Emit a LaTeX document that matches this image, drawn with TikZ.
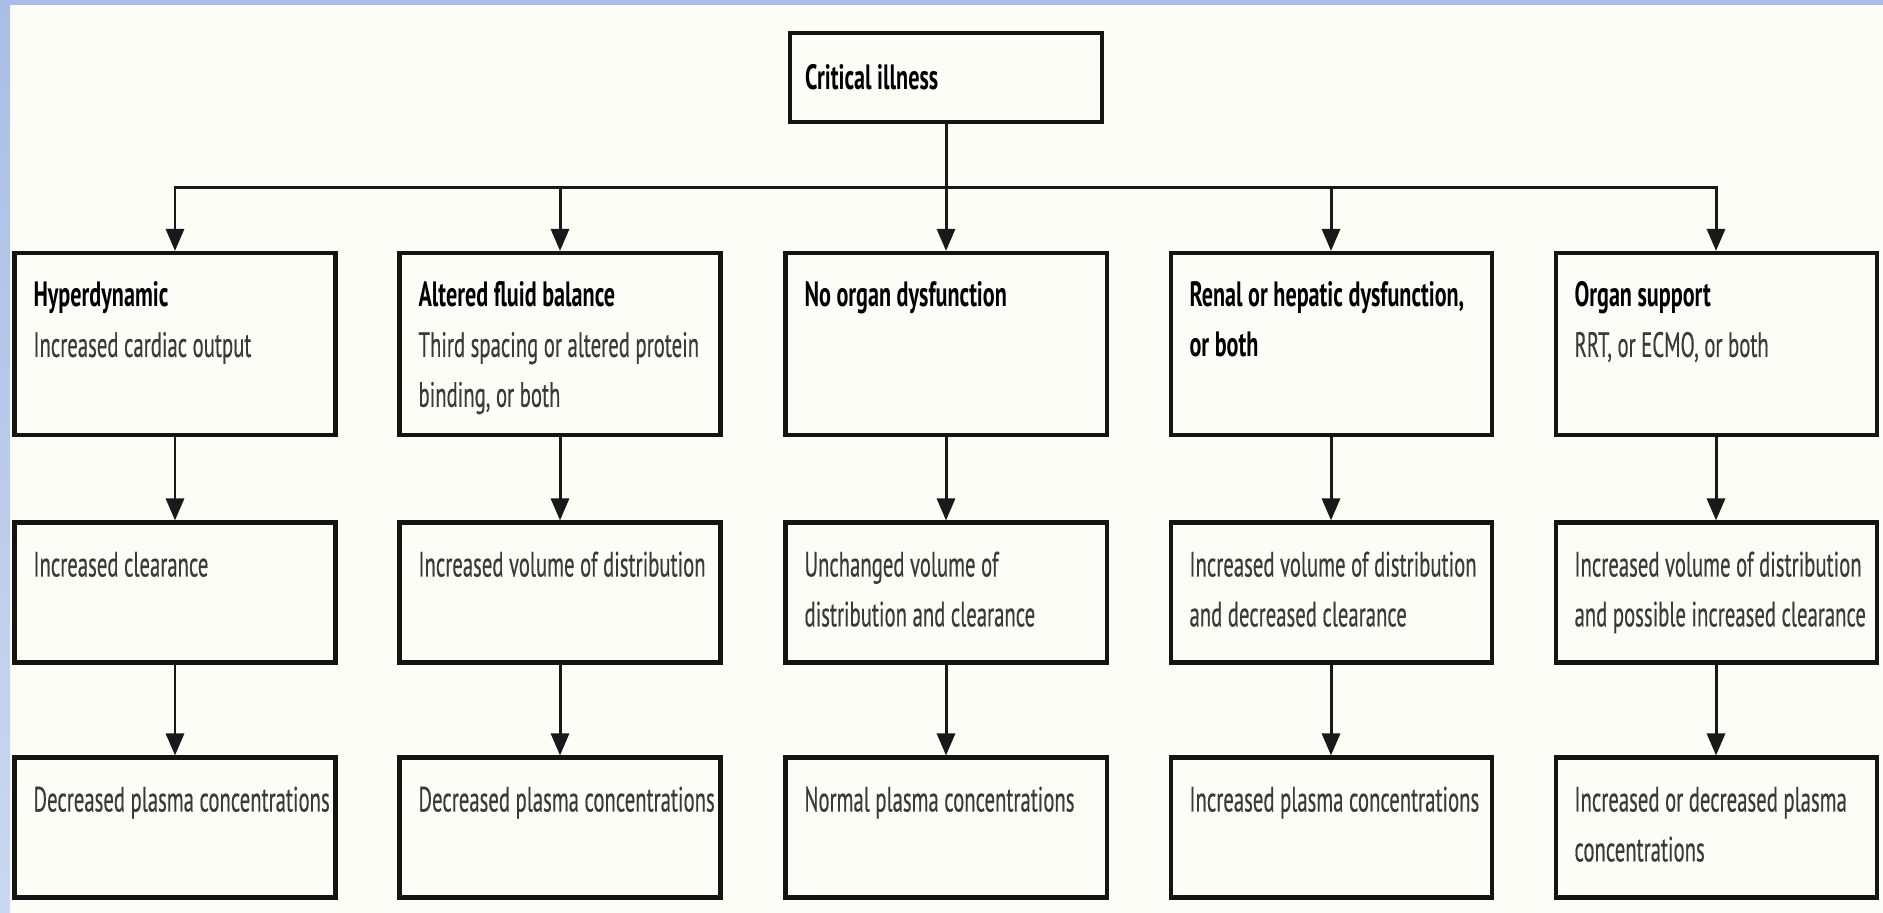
\documentclass[tikz,border=0pt]{standalone}
\usepackage{fontspec}
\setmainfont{PT Sans}[UprightFeatures={FakeStretch=0.59, FakeBold=0.35}, BoldFeatures={FakeStretch=0.63}]
\usetikzlibrary{arrows.meta}

\definecolor{fundo}{HTML}{FDFDF8}
\definecolor{azul}{HTML}{A9BEE6}
\definecolor{azulclaro}{HTML}{CAD8F1}
\definecolor{texto}{HTML}{3A3A3A}

\newcommand{\caixatexto}[2]{\parbox[c][#1][t]{3.21cm}{\leftskip=0.19cm\rightskip=0pt plus 1fil\rule{0pt}{0.54cm}#2}}

\begin{document}
\begin{tikzpicture}[> = {Triangle[length=0.22cm, width=0.18cm]}, font=\fontsize{10}{14.2}\selectfont]
    \tikzstyle{caixa}=[draw=black!92, line width=1.15pt, inner sep=0pt, fill=fundo]
    \tikzstyle{seta}=[->, line width=0.85pt, black!90]

    % Fundo
    \useasboundingbox (0,0) rectangle (18.83,9.13);
    \fill[fundo] (0,0) rectangle (18.83,9.13);
    \shade[top color=azul, bottom color=azulclaro] (0,0) rectangle (0.1,9.13);
    \fill[azul] (0,9.08) rectangle (18.83,9.13);

    % Nós
    \node[caixa] (crit) at (9.46,8.355) {\parbox[c][0.89cm][c]{3.12cm}{\leftskip=0.15cm\textbf{Critical illness}}};
    \coordinate (barra) at (9.46,7.25);

    \node[caixa] (c1) at (1.75,5.69) {\caixatexto{1.82cm}{\textbf{Hyperdynamic}\\ \color{texto}Increased cardiac output}};
    \node[caixa] (c2) at (5.60,5.69) {\caixatexto{1.82cm}{\textbf{Altered fluid balance}\\ \color{texto}Third spacing or altered protein\\ binding, or both}};
    \node[caixa] (c3) at (9.46,5.69) {\caixatexto{1.82cm}{\textbf{No organ dysfunction}}};
    \node[caixa] (c4) at (13.31,5.69) {\caixatexto{1.82cm}{\textbf{Renal or hepatic dysfunction,\\ or both}}};
    \node[caixa] (c5) at (17.16,5.69) {\caixatexto{1.82cm}{\textbf{Organ support}\\ \color{texto}RRT, or ECMO, or both}};

    \node[caixa] (e1) at (1.75,3.205) {\caixatexto{1.40cm}{\color{texto}Increased clearance}};
    \node[caixa] (e2) at (5.60,3.205) {\caixatexto{1.40cm}{\color{texto}Increased volume of distribution}};
    \node[caixa] (e3) at (9.46,3.205) {\caixatexto{1.40cm}{\color{texto}Unchanged volume of\\ distribution and clearance}};
    \node[caixa] (e4) at (13.31,3.205) {\caixatexto{1.40cm}{\color{texto}Increased volume of distribution\\ and decreased clearance}};
    \node[caixa] (e5) at (17.16,3.205) {\caixatexto{1.40cm}{\color{texto}Increased volume of distribution\\ and possible increased clearance}};

    \node[caixa] (p1) at (1.75,0.855) {\caixatexto{1.40cm}{\color{texto}Decreased plasma concentrations}};
    \node[caixa] (p2) at (5.60,0.855) {\caixatexto{1.40cm}{\color{texto}Decreased plasma concentrations}};
    \node[caixa] (p3) at (9.46,0.855) {\caixatexto{1.40cm}{\color{texto}Normal plasma concentrations}};
    \node[caixa] (p4) at (13.31,0.855) {\caixatexto{1.40cm}{\color{texto}Increased plasma concentrations}};
    \node[caixa] (p5) at (17.16,0.855) {\caixatexto{1.40cm}{\color{texto}Increased or decreased plasma\\ concentrations}};

    % Setas
    \draw[seta] (crit.south) -- (barra) -| (c1.north);
    \draw[seta] (crit.south) -- (barra) -| (c2.north);
    \draw[seta] (crit.south) -- (c3.north);
    \draw[seta] (crit.south) -- (barra) -| (c4.north);
    \draw[seta] (crit.south) -- (barra) -| (c5.north);

    \draw[seta] (c1) -- (e1);
    \draw[seta] (c2) -- (e2);
    \draw[seta] (c3) -- (e3);
    \draw[seta] (c4) -- (e4);
    \draw[seta] (c5) -- (e5);

    \draw[seta] (e1) -- (p1);
    \draw[seta] (e2) -- (p2);
    \draw[seta] (e3) -- (p3);
    \draw[seta] (e4) -- (p4);
    \draw[seta] (e5) -- (p5);
\end{tikzpicture}
\end{document}
